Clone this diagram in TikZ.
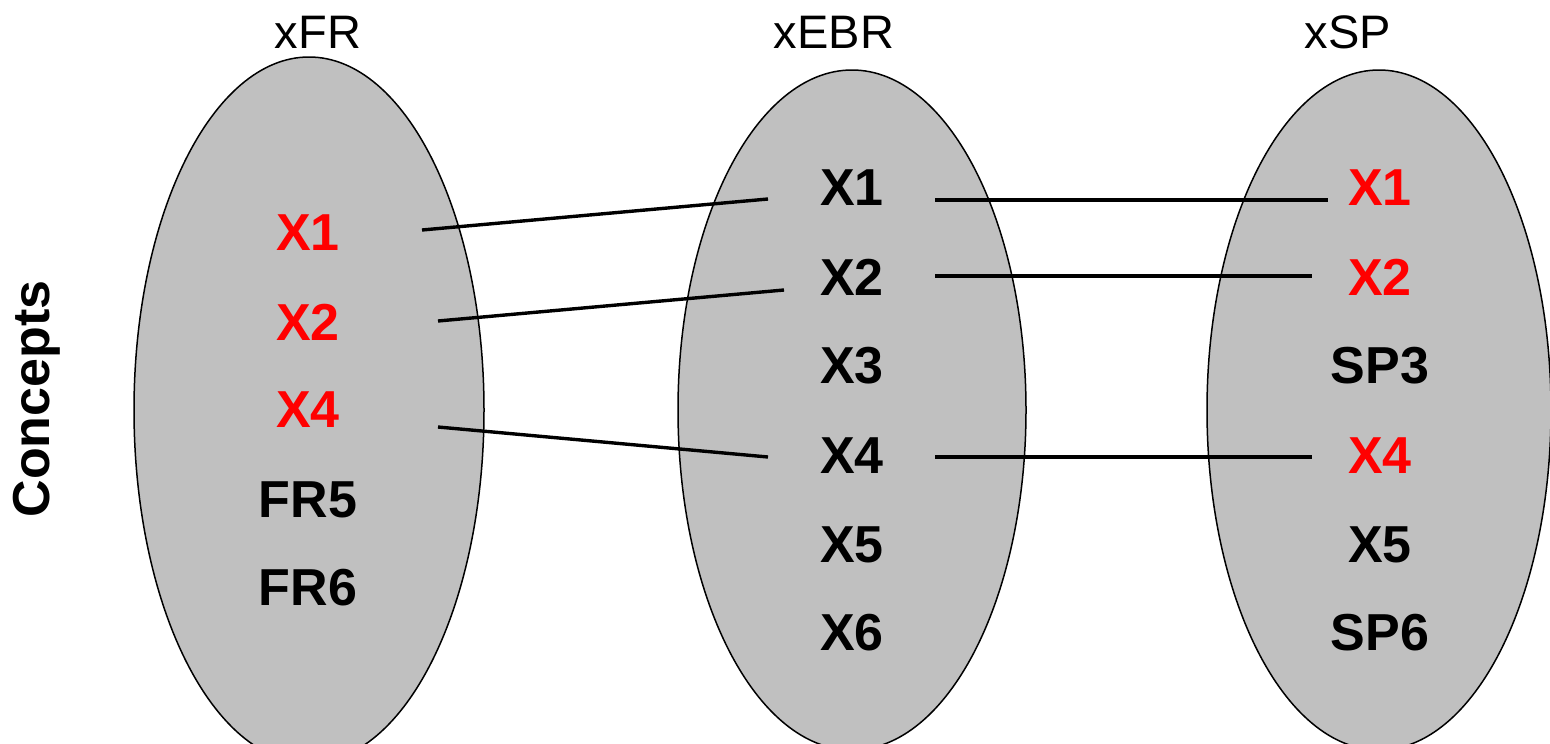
\documentclass[tikz,border=0pt]{standalone}
\usepackage{fontspec}
\setmainfont{Liberation Sans}
\definecolor{ellgray}{HTML}{C0C0C0}
\definecolor{itemred}{HTML}{FF0000}
\begin{document}
\begin{tikzpicture}[x=1pt,y=-1pt,
  setell/.style={draw=black,line width=1.5pt,fill=ellgray},
  item/.style={font=\fontsize{52}{60}\bfseries\selectfont,text=black,inner sep=0pt,anchor=center},
  reditem/.style={item,text=itemred},
  head/.style={font=\fontsize{47}{56}\selectfont,inner sep=0pt,anchor=center},
  link/.style={line width=3.4pt,draw=black}]
\useasboundingbox (0,0) rectangle (1550,744);
\begin{scope}
\clip (0,0) rectangle (1550,744);
\draw[setell] (309,410) ellipse [x radius=175, y radius=353];
\draw[setell] (852,410) ellipse [x radius=174, y radius=340];
\draw[setell] (1379,410) ellipse [x radius=172, y radius=340];
\end{scope}
% headings
\node[head] (hFR) at (318,32) {xFR};
\node[head] (hEBR) at (834,32) {xEBR};
\node[head] (hSP) at (1348,32) {xSP};
\node[item,rotate=90] (concepts) at (37,399) {Concepts};
% left
\node[reditem] (l1) at (308,233) {X1};
\node[reditem] (l2) at (308,322) {X2};
\node[reditem] (l4) at (308,410) {X4};
\node[item] (l5) at (308,500) {FR5};
\node[item] (l6) at (308,588) {FR6};
% middle
\node[item] (m1) at (852,188) {X1};
\node[item] (m2) at (852,277) {X2};
\node[item] (m3) at (852,366) {X3};
\node[item] (m4) at (852,456) {X4};
\node[item] (m5) at (852,545) {X5};
\node[item] (m6) at (852,633) {X6};
% right
\node[reditem] (r1) at (1380,188) {X1};
\node[reditem] (r2) at (1380,277) {X2};
\node[item] (r3) at (1380,366) {SP3};
\node[reditem] (r4) at (1380,456) {X4};
\node[item] (r5) at (1380,545) {X5};
\node[item] (r6) at (1380,633) {SP6};
% link end points
\coordinate (a1) at (422,230);
\coordinate (b1) at (768,199);
\coordinate (a2) at (438,321);
\coordinate (b2) at (784,290);
\coordinate (a4) at (438,427);
\coordinate (b4) at (768,457);
\coordinate (c1) at (935,200);
\coordinate (d1) at (1328,200);
\coordinate (c2) at (935,276);
\coordinate (d2) at (1312,276);
\coordinate (c4) at (935,457);
\coordinate (d4) at (1312,457);
\draw[link] (a1) -- (b1);
\draw[link] (a2) -- (b2);
\draw[link] (a4) -- (b4);
\draw[link] (c1) -- (d1);
\draw[link] (c2) -- (d2);
\draw[link] (c4) -- (d4);
\end{tikzpicture}
\end{document}
